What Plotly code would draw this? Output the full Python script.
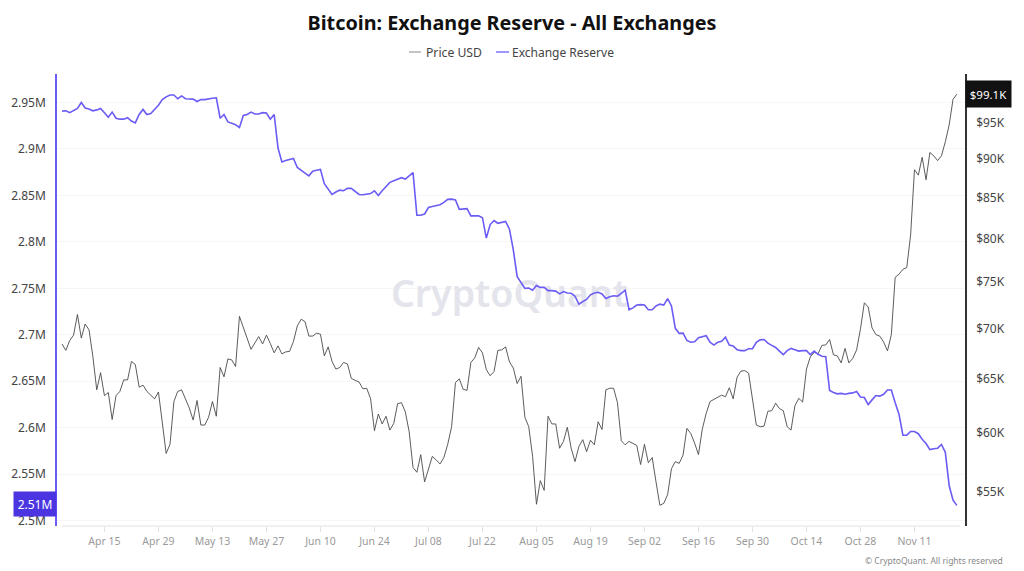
import plotly.graph_objects as go
import pandas as pd

start_date = "2024-04-04"

price_k = [
68.44,67.8,68.8,69.35,71.5,69.05,70.5,69.9,67.2,63.95,65.6,63.4,63.7,61.2,63.4,63.8,64.9,64.9,66.7,66.4,
64.2,64.4,63.8,63.4,63.1,63.75,60.7,58.2,59.0,62.85,63.8,63.95,63.1,62.25,61.15,62.95,60.7,60.7,61.4,62.85,
61.5,66.1,65.2,66.95,66.85,66.2,71.3,70.1,69.05,67.9,68.55,69.2,68.45,69.35,68.5,67.55,68.25,67.45,67.65,67.7,
68.7,70.3,71.0,70.75,69.25,69.25,69.55,69.45,67.25,68.15,66.7,65.95,66.1,66.6,66.45,65.05,64.85,64.7,64.05,64.1,
63.1,60.2,61.7,60.8,61.5,60.25,60.85,62.65,62.75,61.9,60.1,57.0,56.6,58.1,55.8,56.8,57.95,57.65,57.3,57.85,
59.0,60.55,64.65,65.0,64.0,63.9,66.6,67.05,68.1,67.55,65.9,65.3,65.7,67.8,67.85,68.15,66.65,66.05,64.55,65.25,
61.4,60.55,57.95,53.98,55.9,55.1,61.5,60.8,60.8,58.65,59.25,60.5,58.65,57.5,58.8,59.4,58.35,59.35,58.95,61.0,
60.3,63.95,64.1,64.1,62.75,59.3,58.95,59.25,59.05,58.9,57.25,59.0,57.4,57.85,55.8,53.9,54.05,54.75,56.9,57.5,
57.35,58.05,60.4,59.95,59.1,58.1,60.35,61.75,62.85,63.05,63.25,63.45,63.3,64.15,63.1,65.15,65.75,65.8,65.55,63.0,
60.7,60.55,60.6,61.95,62.0,62.7,62.2,62.0,60.55,60.25,62.45,63.15,62.8,65.95,67.15,67.6,67.45,68.3,68.35,68.9,
67.35,67.25,66.55,68.0,66.55,67.0,67.85,70.0,72.75,72.3,70.1,69.4,69.25,68.65,67.75,69.4,75.55,75.9,76.45,76.65,
80.45,88.6,87.9,90.25,87.3,90.9,90.45,89.8,90.45,92.35,94.7,98.35,99.1,
]

reserve_m = [
2.9407,2.941,2.939,2.941,2.9436,2.95,2.944,2.943,2.941,2.942,2.9436,2.939,2.934,2.9396,2.933,2.932,2.932,2.9336,2.93,2.928,
2.937,2.9425,2.937,2.938,2.942,2.947,2.953,2.956,2.958,2.958,2.954,2.957,2.954,2.954,2.9536,2.951,2.953,2.953,2.954,2.9546,
2.955,2.933,2.937,2.929,2.9275,2.926,2.923,2.936,2.937,2.9396,2.9375,2.9375,2.939,2.9386,2.932,2.937,2.901,2.886,2.8875,2.889,
2.8897,2.88,2.8765,2.874,2.871,2.876,2.877,2.878,2.8625,2.857,2.851,2.8536,2.8557,2.855,2.8575,2.8575,2.854,2.851,2.8507,2.8514,
2.852,2.855,2.85,2.855,2.86,2.864,2.8657,2.867,2.869,2.8675,2.871,2.8746,2.8286,2.8286,2.83,2.837,2.838,2.8386,2.84,2.8425,
2.8457,2.846,2.845,2.835,2.835,2.8357,2.828,2.828,2.828,2.826,2.804,2.8186,2.823,2.82,2.8207,2.822,2.8136,2.7914,2.7625,2.7557,
2.75,2.7504,2.748,2.753,2.751,2.751,2.7475,2.7475,2.747,2.744,2.7465,2.745,2.7447,2.7415,2.733,2.7357,2.738,2.743,2.745,2.7457,
2.744,2.739,2.741,2.742,2.7415,2.7447,2.748,2.727,2.729,2.732,2.7325,2.732,2.727,2.727,2.731,2.733,2.732,2.739,2.731,2.707,
2.7015,2.7018,2.694,2.692,2.6925,2.697,2.698,2.699,2.692,2.689,2.692,2.693,2.6975,2.689,2.688,2.684,2.683,2.683,2.685,2.685,
2.692,2.6946,2.695,2.691,2.6886,2.6864,2.6825,2.6786,2.683,2.6854,2.684,2.6825,2.683,2.683,2.6786,2.6825,2.679,2.677,2.6764,2.64,
2.638,2.6365,2.637,2.636,2.637,2.6375,2.639,2.633,2.6325,2.625,2.63,2.6347,2.634,2.636,2.6407,2.6407,2.627,2.6143,2.592,2.592,
2.596,2.596,2.5936,2.5875,2.583,2.5765,2.5775,2.578,2.582,2.5736,2.5376,2.522,2.5165,
]

reserve_ticks = [2.5, 2.55, 2.6, 2.65, 2.7, 2.75, 2.8, 2.85, 2.9, 2.95]
reserve_labels = ["2.5M", "2.55M", "2.6M", "2.65M", "2.7M", "2.75M", "2.8M", "2.85M", "2.9M", "2.95M"]
price_ticks = [55, 60, 65, 70, 75, 80, 85, 90, 95]
price_labels = ["$55K", "$60K", "$65K", "$70K", "$75K", "$80K", "$85K", "$90K", "$95K"]
date_ticks = ["2024-04-15", "2024-04-29", "2024-05-13", "2024-05-27", "2024-06-10", "2024-06-24", "2024-07-08",
              "2024-07-22", "2024-08-05", "2024-08-19", "2024-09-02", "2024-09-16", "2024-09-30", "2024-10-14",
              "2024-10-28", "2024-11-11"]
date_labels = ["Apr 15", "Apr 29", "May 13", "May 27", "Jun 10", "Jun 24", "Jul 08", "Jul 22", "Aug 05", "Aug 19",
               "Sep 02", "Sep 16", "Sep 30", "Oct 14", "Oct 28", "Nov 11"]

dp = pd.date_range(start_date, periods=len(price_k))
dr = pd.date_range(start_date, periods=len(reserve_m))

FONT = "Noto Sans"
BLUE = "#6a5cf5"
GRAY_LINE = "#4a4a4a"
W = 908.0
H = 452.0
PX0, PY0 = 57.0, 74.0  # page position of the plot area's top-left corner


def px(x):
    return (x - PX0) / W


def py(y):
    return 1 - (y - PY0) / H


fig = go.Figure()
# watermark sits beneath both lines, as in the reference
fig.add_trace(go.Scatter(x=["2024-07-29"], y=[2.7395], mode="text", text=["CryptoQuant"], hoverinfo="skip",
                         textposition="middle center",
                         textfont=dict(size=37.5, color="#e4e4ec", family=FONT, weight=600)))
fig.add_trace(go.Scatter(x=dp, y=price_k, name="Price USD", yaxis="y2", mode="lines",
                         line=dict(color=GRAY_LINE, width=0.9)))
fig.add_trace(go.Scatter(x=dr, y=reserve_m, name="Exchange Reserve", yaxis="y3", mode="lines",
                         line=dict(color=BLUE, width=1.6)))

fig.update_layout(
    width=1016, height=563, autosize=False,
    margin=dict(l=49, r=59, t=66, b=45),
    paper_bgcolor="white", plot_bgcolor="white",
    font=dict(family=FONT, color="#444444"),
    title=dict(text="<b>Bitcoin: Exchange Reserve - All Exchanges</b>", x=504 / 1016, xanchor="center",
               y=1 - 15 / 563, yanchor="middle", font=dict(size=19.8, color="#111111", family=FONT)),
    showlegend=False,
    xaxis=dict(type="date", automargin=False,
               range=["2024-04-02 16:48", "2024-11-24 02:24"],
               tickmode="array", tickvals=date_ticks, ticktext=date_labels,
               tickfont=dict(size=10.5, color="#9a9a9a"), ticks="outside", ticklen=5, tickcolor="#e2e2e6",
               showgrid=False, showline=False, zeroline=False),
    yaxis=dict(side="left", automargin=False, range=[2.4943, 2.9806],
               tickmode="array", tickvals=reserve_ticks, ticktext=reserve_labels,
               tickfont=dict(size=12, color="#444444"), ticks="outside", ticklen=7, tickcolor="white",
               showgrid=True, gridcolor="#f6f6f8",
               showline=True, linecolor=BLUE, linewidth=1.5, zeroline=False),
    yaxis2=dict(side="right", automargin=False, overlaying="y", type="log", anchor="x",
                range=[1.71825, 2.00903],
                tickmode="array", tickvals=price_ticks, ticktext=price_labels,
                tickfont=dict(size=12, color="#444444"), ticks="outside", ticklen=7, tickcolor="white",
                showgrid=False,
                showline=True, linecolor="#333333", linewidth=1.5, zeroline=False),
    yaxis3=dict(overlaying="y", automargin=False, range=[2.4943, 2.9806], visible=False),
    shapes=[
        dict(type="line", xref="paper", yref="paper", x0=px(62), x1=px(960), y0=0, y1=0,
             line=dict(color="#e2e2e6", width=1)),
        dict(type="line", xref="paper", yref="paper", x0=px(409), x1=px(421), y0=py(52), y1=py(52),
             line=dict(color="#888888", width=1)),
        dict(type="line", xref="paper", yref="paper", x0=px(496), x1=px(509), y0=py(52), y1=py(52),
             line=dict(color=BLUE, width=1.3)),
    ],
    annotations=[
        dict(text="Price USD", xref="paper", yref="paper", x=px(423.5), y=py(52), xanchor="left", yanchor="middle",
             showarrow=False, font=dict(size=12.2, color="#444444")),
        dict(text="Exchange Reserve", xref="paper", yref="paper", x=px(510), y=py(52), xanchor="left",
             yanchor="middle", showarrow=False, font=dict(size=12, color="#444444")),
        dict(text="2.51M", xref="paper", yref="y", x=0, y=2.518, xanchor="right", yanchor="middle",
             showarrow=False, bgcolor="#4a35e0", font=dict(size=12, color="white"), borderpad=2,
             width=38, height=20),
        dict(text="$99.1K", xref="paper", yref="y2", x=1, y=1.99607, xanchor="left", yanchor="middle",
             showarrow=False, bgcolor="#111111", font=dict(size=11.5, color="white"), borderpad=2,
             width=41, height=22),
        dict(text="© CryptoQuant. All rights reserved", xref="paper", yref="paper", x=px(1005), y=py(560),
             xanchor="right", yanchor="middle", showarrow=False, font=dict(size=8.5, color="#888888")),
    ],
)
fig.write_html("out.html")
